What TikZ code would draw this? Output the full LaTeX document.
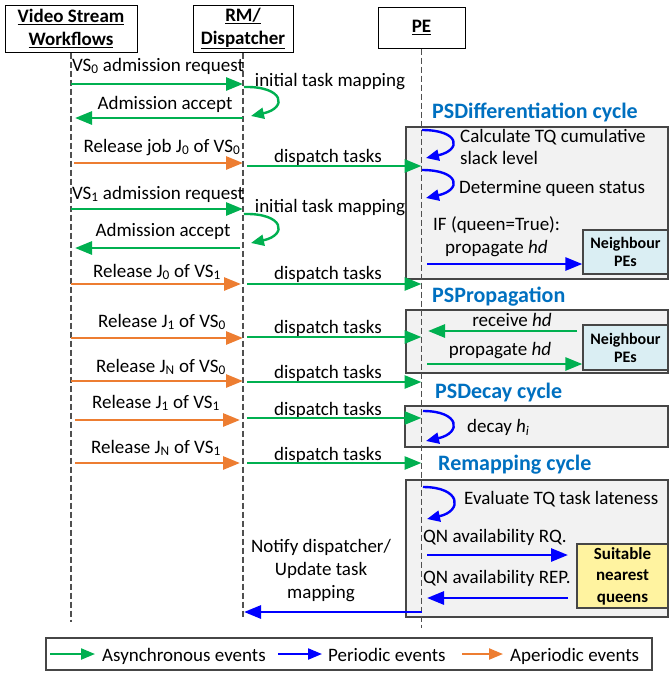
\documentclass[tikz,border=0pt]{standalone}
\usepackage{fontspec}
\setmainfont{Carlito}
\usetikzlibrary{arrows.meta}
\definecolor{cgreen}{RGB}{0,176,80}
\definecolor{corange}{RGB}{237,125,49}
\definecolor{cblue}{RGB}{0,0,255}
\definecolor{ctitle}{RGB}{0,112,192}
\definecolor{cgrayfill}{RGB}{242,242,242}
\definecolor{cborder}{RGB}{70,70,70}
\definecolor{clife}{RGB}{80,80,80}
\definecolor{cnbfill}{RGB}{218,238,243}
\definecolor{cyel}{RGB}{255,243,160}
\begin{document}
\begin{tikzpicture}[x=1pt,y=-1pt,
  txt/.style={font=\fontsize{19}{23}\selectfont, inner sep=0pt},
  ttl/.style={font=\bfseries\fontsize{22}{26}\selectfont, text=ctitle, inner sep=0pt, anchor=base west},
  hdr/.style={draw=black, line width=1pt, font=\bfseries\fontsize{19}{23}\selectfont, align=center, inner sep=0pt},
  life/.style={draw=clife, line width=1.2pt, dash pattern=on 6pt off 3pt},
  gbox/.style={draw=cborder, fill=cgrayfill, line width=1.3pt, inner sep=0pt},
  nbox/.style={draw=cborder, fill=cnbfill, line width=1.3pt, inner sep=0pt, align=center, font=\bfseries\fontsize{16}{18}\selectfont},
  ybox/.style={draw=cborder, fill=cyel, line width=1.3pt, inner sep=0pt, align=center, font=\bfseries\fontsize{17}{21.5}\selectfont},
  ga/.style={draw=cgreen, line width=2.8pt, -{Triangle[length=17pt,width=13pt]}},
  oa/.style={draw=corange, line width=2.8pt, -{Triangle[length=17pt,width=13pt]}},
  ba/.style={draw=cblue, line width=2.8pt, -{Triangle[length=17pt,width=13pt]}},
  gl/.style={draw=cgreen, line width=2.4pt, -{Triangle[length=13pt,width=11pt]}},
  bl/.style={draw=cblue, line width=2.4pt, -{Triangle[length=13pt,width=11pt]}},
  lg/.style={line width=2.2pt, -{Triangle[length=14pt,width=11pt]}}
]
\useasboundingbox (0,0) rectangle (670,673);

% header boxes
\node[hdr, minimum width=132, minimum height=47] (vsw) at (71,28.5) {\underline{Video Stream}\\\underline{Workflows}};
\node[hdr, minimum width=100, minimum height=47] (rmd) at (243,28.5) {\underline{RM/}\\\underline{Dispatcher}};
\node[hdr, minimum width=87, minimum height=41] (pe) at (421.5,27.5) {\underline{PE}};

\coordinate (x1) at (71,0);
\coordinate (x2) at (243,0);
\coordinate (x3) at (421.5,0);
\coordinate (x2r) at (247,0);
\coordinate (x3r) at (427,0);

% gray cycle boxes
\node[gbox, minimum width=262, minimum height=152] (bdiff) at (537,203) {};
\node[gbox, minimum width=262, minimum height=63] (bprop) at (537,341.5) {};
\node[gbox, minimum width=263, minimum height=41] (bdec) at (536.5,426.5) {};
\node[gbox, minimum width=262, minimum height=137] (bremap) at (537,548.5) {};

\node[nbox, minimum width=85, minimum height=44] (nb1) at (625.5,252) {Neighbour\\PEs};
\node[nbox, minimum width=85, minimum height=45] (nb2) at (625.5,347.5) {Neighbour\\PEs};
\node[ybox, minimum width=91, minimum height=64] (snq) at (622.5,576) {Suitable\\nearest\\queens};

% lifelines
\draw[life] (vsw.south) -- (x1 |- 0,622);
\draw[life] (rmd.south) -- (x2 |- 0,619);
\draw[life] (pe.south) -- (x3 |- 0,628);

% titles
\node[ttl] (tdiff) at (432,118) {PSDifferentiation cycle};
\node[ttl] (tprop) at (432,302) {PSPropagation};
\node[ttl] (tdec) at (435,398) {PSDecay cycle};
\node[ttl] (tremap) at (438,470) {Remapping cycle};

% left messages
\node[txt, anchor=base] (m1) at (158,71) {VS\textsubscript{0} admission request};
\draw[ga] (x1 |- 0,84) -- (x2 |- 0,84);
\node[txt, anchor=base] (m2) at (330,86) {initial task mapping};
\draw[gl] (244,87) .. controls (284,86) and (288,108) .. (251,116);
\node[txt, anchor=base] (m3) at (165,109) {Admission accept};
\draw[ga] (x2 |- 0,118) -- (75,118);

\node[txt, anchor=base] (m4) at (162,152) {Release job J\textsubscript{0} of VS\textsubscript{0}};
\draw[oa] (74,163) -- (x2 |- 0,163);
\node[txt, anchor=base] (d1) at (328,162) {dispatch tasks};
\draw[ga] (x2r |- 0,166) -- (x3 |- 0,166);

\node[txt, anchor=base] (m5) at (158,199) {VS\textsubscript{1} admission request};
\draw[ga] (x1 |- 0,209) -- (x2 |- 0,209);
\node[txt, anchor=base] (m6) at (330,212) {initial task mapping};
\draw[gl] (244,214) .. controls (284,213) and (288,235) .. (251,243);
\node[txt, anchor=base] (m7) at (163,236) {Admission accept};
\draw[ga] (240,248) -- (75,248);

\node[txt, anchor=base] (m8) at (157,277) {Release J\textsubscript{0} of VS\textsubscript{1}};
\draw[oa] (x1 |- 0,284) -- (241,284);
\node[txt, anchor=base] (d2) at (328,279) {dispatch tasks};
\draw[ga] (x2r |- 0,284) -- (x3 |- 0,284);

\node[txt, anchor=base] (m9) at (162,327) {Release J\textsubscript{1} of VS\textsubscript{0}};
\draw[oa] (x1 |- 0,338) -- (x2 |- 0,338);
\node[txt, anchor=base] (d3) at (328,333) {dispatch tasks};
\draw[ga] (x2r |- 0,337) -- (x3 |- 0,337);

\node[txt, anchor=base] (m10) at (161,372) {Release J\textsubscript{N} of VS\textsubscript{0}};
\draw[oa] (x1 |- 0,381) -- (x2 |- 0,381);
\node[txt, anchor=base] (d4) at (328,378) {dispatch tasks};
\draw[ga] (x2r |- 0,382) -- (x3 |- 0,382);

\node[txt, anchor=base] (m11) at (156,408) {Release J\textsubscript{1} of VS\textsubscript{1}};
\draw[oa] (75,420) -- (240,420);
\node[txt, anchor=base] (d5) at (328,415) {dispatch tasks};
\draw[ga] (x2r |- 0,418) -- (x3 |- 0,418);

\node[txt, anchor=base] (m12) at (156,453) {Release J\textsubscript{N} of VS\textsubscript{1}};
\draw[oa] (75,463) -- (240,463);
\node[txt, anchor=base] (d6) at (328,460) {dispatch tasks};
\draw[ga] (x2r |- 0,463) -- (x3 |- 0,463);

% PSDifferentiation content
\draw[bl] (422,130) .. controls (460,130) and (462,150) .. (426,158);
\node[txt, anchor=base west] (c1) at (460,142) {Calculate TQ cumulative};
\node[txt, anchor=base west] (c2) at (460,164) {slack level};
\draw[bl] (422,170) .. controls (460,170) and (462,190) .. (426,198);
\node[txt, anchor=base west] (c3) at (459,193) {Determine queen status};
\node[txt, anchor=base west] (c4) at (433,230) {IF (queen=True):};
\node[txt, anchor=base west] (c5) at (445,253) {propagate \textit{hd}};
\draw[ba] (x3r |- 0,264) -- (nb1.west |- 0,264);

% PSPropagation content
\node[txt, anchor=base] (p1) at (512,326) {receive \textit{hd}};
\draw[ga] (577,331) -- (428,331);
\node[txt, anchor=base] (p2) at (500,355) {propagate \textit{hd}};
\draw[ga] (x3r |- 0,364) -- (nb2.west |- 0,364);

% PSDecay content
\draw[bl] (423,411) .. controls (460,411) and (462,433) .. (426,441);
\node[txt, anchor=base west] (e1) at (467,432) {decay \textit{h\textsubscript{i}}};

% Remapping content
\draw[bl] (423,487) .. controls (461,487) and (463,511) .. (427,519);
\node[txt, anchor=base west] (r1) at (464,504) {Evaluate TQ task lateness};
\node[txt, anchor=base west] (r2) at (423,542) {QN availability RQ.};
\draw[ba] (x3r |- 0,555) -- (568,555);
\node[txt, anchor=base west] (r3) at (423,583) {QN availability REP.};
\draw[ba] (568,598) -- (x3r |- 0,598);
\draw[ba] (x3 |- 0,612) -- (244,612);
\node[txt, align=center] (r4) at (321,570.5) {Notify dispatcher/\\Update task\\mapping};

% legend
\node[draw=cborder, line width=1.2pt, fill=white, minimum width=606, minimum height=32, inner sep=0pt] (leg) at (349,654) {};
\draw[lg, draw=cgreen] (50,654) -- (95,654);
\node[txt, anchor=base west] (l1) at (102,661) {Asynchronous events};
\draw[lg, draw=cblue] (278,654) -- (322,654);
\node[txt, anchor=base west] (l2) at (328,661) {Periodic events};
\draw[lg, draw=corange] (462,654) -- (503,654);
\node[txt, anchor=base west] (l3) at (510,661) {Aperiodic events};
\end{tikzpicture}
\end{document}
